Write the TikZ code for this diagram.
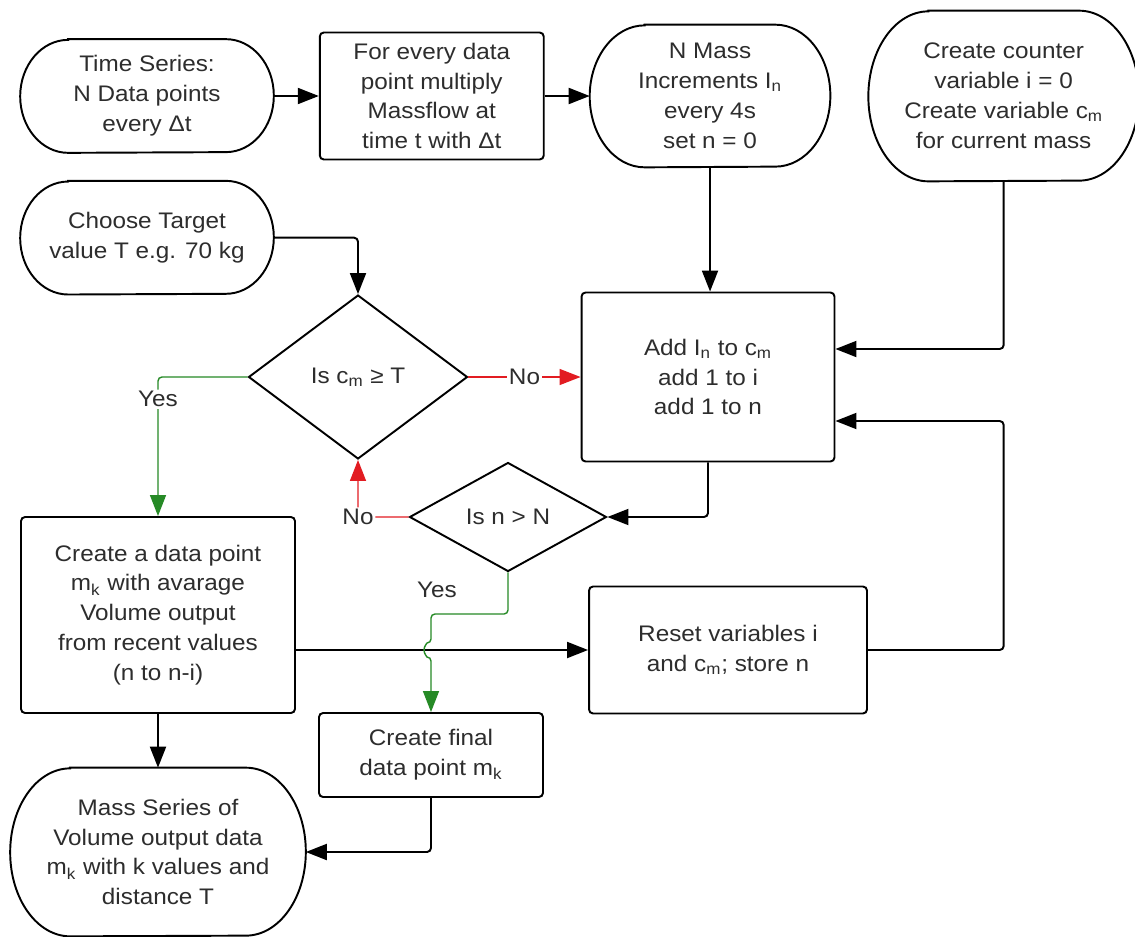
\documentclass[tikz,border=0pt]{standalone}
\usepackage{fontspec}
\setmainfont{Liberation Sans}[FakeStretch=1.08]
\usetikzlibrary{positioning, arrows.meta, shapes.geometric}
\definecolor{txtgray}{RGB}{45,45,45}
\definecolor{yesgreen}{RGB}{38,138,38}
\definecolor{nored}{RGB}{226,28,34}

% outline of a terminal node: name, x radius of the ends, half height
\newcommand{\termline}[3]{%
  \draw[line width=1.1pt] ([xshift=#2]#1.north west) -- ([xshift=-#2]#1.north east)
    arc[start angle=90, end angle=-90, x radius=#2, y radius=#3]
    -- ([xshift=#2]#1.south west)
    arc[start angle=270, end angle=90, x radius=#2, y radius=#3] -- cycle;}

\begin{document}
\begin{tikzpicture}[
  x=0.02cm, y=-0.02cm,
  font=\fontsize{12.8}{17}\selectfont,
  >={Triangle[length=0.42cm, width=0.32cm]},
  block/.style={rectangle, draw, line width=1.1pt, rounded corners=0.08cm,
                align=center, text=txtgray},
  term/.style={rectangle, align=center, text=txtgray, inner sep=0pt},
  decision/.style={diamond, draw, line width=1.1pt, align=center,
                   text=txtgray, inner sep=0pt},
  link/.style={->, line width=1.1pt, rounded corners=0.08cm},
  yeslink/.style={->, yesgreen, line width=0.8pt, rounded corners=0.08cm},
  nolink/.style={->, nored, line width=0.8pt, rounded corners=0.08cm},
  lbl/.style={fill=white, inner sep=1pt, text=txtgray}
]
\useasboundingbox[fill=white] (0,0) rectangle (1135,936);

% Input chain
\node[term, minimum width=5.06cm, minimum height=2.26cm] (ts) at (147,96)
  {Time Series:\\N Data points\\every Δt};
\node[block, minimum width=4.48cm, minimum height=2.54cm, right=0.9cm of ts] (mult)
  {For every data\\point multiply\\Massflow at\\time t with Δt};
\node[term, minimum width=4.8cm, minimum height=2.84cm, right=0.9cm of mult] (inc)
  {N Mass\\Increments I\textsubscript{n}\\every 4s\\set n = 0};
\node[term, minimum width=5.4cm, minimum height=3.4cm, right=0.76cm of inc] (ctr)
  {Create counter\\variable i = 0\\Create variable c\textsubscript{m}\\for current mass};
\node[term, minimum width=5.06cm, minimum height=2.26cm, below=0.56cm of ts] (tgt)
  {Choose Target\\value T e.g. 70 kg};

% Loop
\node[decision, minimum width=4.38cm, minimum height=3.28cm] (dec1) at (358,377)
  {Is c\textsubscript{m} ≥ T};
\node[block, minimum width=5.06cm, minimum height=3.38cm] (add) at (708,377)
  {Add I\textsubscript{n} to c\textsubscript{m}\\add 1 to i\\add 1 to n};
\node[decision, minimum width=3.94cm, minimum height=2.18cm] (dec2) at (508,517)
  {Is n > N};
\node[block, minimum width=5.48cm, minimum height=3.92cm] (pt) at (158,615)
  {Create a data point\\m\textsubscript{k} with avarage\\Volume output\\from recent values\\(n to n-i)};
\node[block, minimum width=5.56cm, minimum height=2.54cm] (rst) at (728,650)
  {Reset variables i\\and c\textsubscript{m}; store n};
\node[block, minimum width=4.48cm, minimum height=1.68cm] (fin) at (431,755)
  {Create final\\data point m\textsubscript{k}};
\node[term, minimum width=5.9cm, minimum height=3.36cm] (ms) at (158,852)
  {Mass Series of\\Volume output data\\m\textsubscript{k} with k values and\\distance T};

% Terminal outlines
\termline{ts}{0.96cm}{1.13cm}
\termline{tgt}{0.96cm}{1.13cm}
\termline{inc}{1.1cm}{1.42cm}
\termline{ctr}{1.2cm}{1.7cm}
\termline{ms}{1.2cm}{1.68cm}

\coordinate (inA) at ([yshift=0.56cm]add.east);
\coordinate (inB) at ([yshift=-0.88cm]add.east);
\coordinate (jog) at (431,614);
\coordinate (hop) at (fin.north |- rst.west);

% Black connectors
\draw[link] (ts) -- (mult);
\draw[link] (mult) -- (inc);
\draw[link] (inc.south) -- (inc.south |- add.north);
\draw[link] (ctr.south) |- (inA);
\draw[link] (tgt.east) -| (dec1.north);
\draw[link] (add.south) |- (dec2.east);
\draw[link] (pt.east |- rst.west) -- (rst.west);
\draw[link] (rst.east) -| (ctr.south |- inB) -- (inB);
\draw[link] (pt.south) -- (ms.north);
\draw[link] (fin.south) |- (ms.east);

% Decision branches
\draw[nolink] (dec1.east) -- node[lbl]{No} (add.west);
\draw[nolink] (dec2.west) -| node[lbl]{No} (dec1.south);
\draw[yeslink] (dec1.west) -| node[lbl, pos=0.58]{Yes} (pt.north);
\draw[yeslink] (dec2.south) |- (jog) -- ([yshift=0.14cm]hop)
  arc[start angle=90, end angle=270, radius=0.14cm] -- (fin.north);
\node[lbl] (yes2) at (437,590) {Yes};
\end{tikzpicture}
\end{document}
